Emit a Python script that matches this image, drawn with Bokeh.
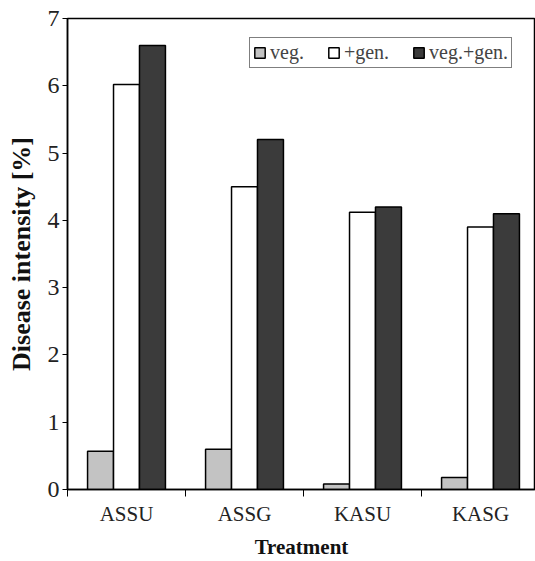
import numpy as np
from bokeh.plotting import figure
from bokeh.models import ColumnDataSource, FixedTicker, Legend, LegendItem, Range1d
from bokeh.embed import file_html
from bokeh.resources import INLINE

categories = ["ASSU", "ASSG", "KASU", "KASG"]
veg = [0.57, 0.6, 0.08, 0.18]
gen = [6.02, 4.5, 4.12, 3.9]
veg_gen = [6.6, 5.2, 4.2, 4.1]
series_names = ["veg.", "+gen.", "veg.+gen."]
yticks = [0, 1, 2, 3, 4, 5, 6, 7]

FONT = "Liberation Serif"
colors = ["#c3c3c3", "#ffffff", "#3b3b3b"]
bw = 0.22

p = figure(width=535, height=561, output_backend="svg", toolbar_location=None,
           x_range=Range1d(0, 3.966), y_range=Range1d(0, 7),
           min_border_left=67, min_border_top=18, min_border_right=0,
           min_border_bottom=71)
p.grid.visible = False
p.outline_line_color = "black"
p.outline_line_width = 1.5

centers = np.arange(len(categories)) + 0.5
renderers = []
for k, (vals, col) in enumerate(zip([veg, gen, veg_gen], colors)):
    src = ColumnDataSource(dict(x=centers + (k - 1) * bw, top=vals))
    r = p.vbar(x="x", top="top", width=bw, bottom=0, source=src,
               fill_color=col, line_color="black", line_width=1.5)
    renderers.append(r)

p.xaxis.ticker = FixedTicker(ticks=list(centers), minor_ticks=[0, 1, 2, 3])
p.xaxis.major_label_overrides = {float(c): n for c, n in zip(centers, categories)}
p.xaxis.major_tick_out = 0
p.xaxis.major_tick_in = 0
p.xaxis.minor_tick_out = 7
p.xaxis.minor_tick_in = 0
p.xaxis.major_label_standoff = 5
p.yaxis.ticker = FixedTicker(ticks=yticks, minor_ticks=[])
p.yaxis.major_tick_out = 5
p.yaxis.major_tick_in = 0
p.yaxis.minor_tick_out = 0
p.yaxis.major_label_standoff = 3

for ax in [p.xaxis[0], p.yaxis[0]]:
    ax.axis_line_color = "black"
    ax.axis_line_width = 1.5
    ax.major_tick_line_color = "black"
    ax.minor_tick_line_color = "black"
    ax.major_label_text_font = FONT
    ax.major_label_text_color = "#222222"
    ax.axis_label_text_font = FONT
    ax.axis_label_text_font_style = "bold"
    ax.axis_label_text_color = "#111111"

p.xaxis.major_label_text_font_size = "21px"
p.yaxis.major_label_text_font_size = "24px"
p.xaxis.axis_label_text_font_size = "21px"
p.yaxis.axis_label_text_font_size = "26px"
p.xaxis.axis_label = "Treatment"
p.yaxis.axis_label = "Disease intensity [%]"
p.xaxis.axis_label_standoff = 6
p.yaxis.axis_label_standoff = 9

legend = Legend(items=[LegendItem(label=n, renderers=[r]) for n, r in zip(series_names, renderers)],
                orientation="horizontal", location=(182, 421))
legend.label_text_font = FONT
legend.label_text_font_size = "20px"
legend.glyph_width = 13
legend.glyph_height = 13
legend.spacing = 23
legend.label_standoff = 4
legend.padding = 3
legend.margin = 0
legend.border_line_color = "black"
legend.border_line_width = 1.5
legend.background_fill_alpha = 1
p.add_layout(legend)

open("out.html", "w").write(file_html(p, INLINE))
